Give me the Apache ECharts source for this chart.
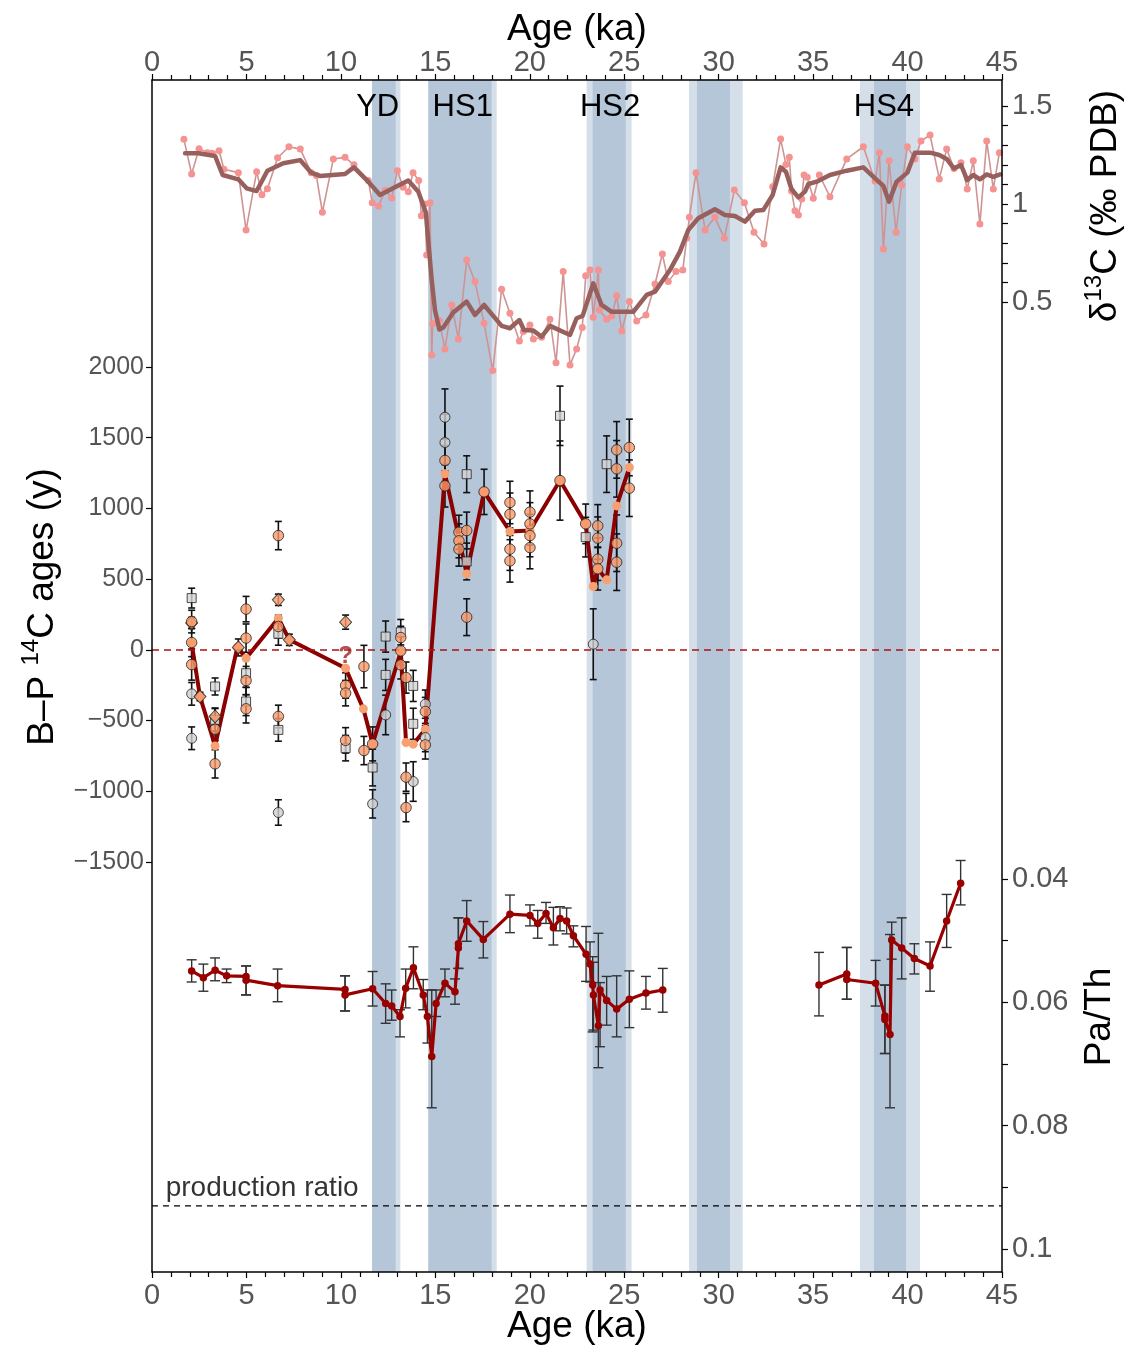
<!DOCTYPE html>
<html><head><meta charset="utf-8">
<script src="https://cdn.jsdelivr.net/npm/echarts@6/dist/echarts.min.js"></script>
<style>html,body{margin:0;padding:0;background:#fff}#c{width:1126px;height:1347px}</style>
</head><body><div id="c"></div>
<script>
// ---------------- DATA ----------------
// shaded intervals: [lightStart, darkStart, darkEnd, lightEnd] (ka)
const bands = [
  [11.65, 11.65, 12.9, 13.15],
  [14.63, 14.63, 17.98, 18.25],
  [23.01, 23.33, 25.08, 25.39],
  [28.43, 28.85, 30.6, 31.27],
  [37.48, 38.22, 39.92, 40.66]
];
const bandLabels = ['YD', 'HS1', 'HS2', '', 'HS4'];
const bandLabelAge = [11.95, 16.45, 24.25, null, 38.75];

// d13C raw [age ka, permil]
const d13cRaw = [[1.69,1.33],[2.10,1.153],[2.49,1.282],[2.93,1.262],[3.18,1.259],[3.55,1.272],[3.81,1.177],[4.57,1.16],[4.98,0.867],[5.54,1.165],[5.82,1.047],[6.11,1.078],[6.65,1.236],[7.25,1.292],[7.85,1.28],[8.43,1.16],[8.7,1.145],[9.02,0.958],[9.6,1.23],[10.22,1.238],[10.69,1.2],[11.45,1.12],[11.66,1.007],[12.0,0.99],[12.35,1.07],[12.69,1.03],[12.99,1.17],[13.3,1.085],[13.57,1.063],[13.82,1.16],[14.12,1.12],[14.26,0.94],[14.45,1.0],[14.54,0.74],[14.72,1.007],[14.81,0.23],[14.86,0.39],[15.21,0.405],[15.51,0.26],[15.87,0.485],[16.22,0.311],[16.66,0.714],[17.1,0.604],[17.58,0.391],[18.04,0.15],[18.51,0.565],[18.95,0.442],[19.45,0.301],[19.66,0.349],[20.01,0.383],[20.19,0.311],[20.63,0.32],[21.07,0.412],[21.39,0.19],[21.77,0.655],[22.13,0.179],[22.48,0.26],[22.78,0.37],[22.96,0.634],[23.19,0.663],[23.36,0.422],[23.63,0.663],[23.68,0.459],[24.07,0.412],[24.34,0.429],[24.6,0.532],[24.87,0.352],[25.27,0.502],[25.66,0.403],[26.15,0.434],[26.63,0.592],[27.02,0.745],[27.33,0.604],[27.74,0.655],[28.1,0.663],[28.31,0.825],[28.45,0.932],[28.8,1.16],[29.28,0.867],[29.8,0.932],[30.3,0.825],[30.83,1.071],[31.36,1.007],[31.87,0.856],[32.4,0.796],[32.86,1.088],[33.28,1.332],[33.56,1.202],[33.74,1.238],[33.86,1.066],[34.04,0.966],[34.22,0.944],[34.4,1.026],[34.52,1.148],[34.69,1.136],[35.01,1.029],[35.33,1.148],[35.89,1.037],[36.78,1.23],[37.66,1.292],[38.28,1.117],[38.51,1.262],[38.72,0.77],[39.02,1.221],[39.39,0.856],[39.69,1.097],[39.99,1.292],[40.39,1.23],[40.71,1.321],[41.19,1.352],[41.68,1.128],[42.07,1.28],[42.46,1.181],[42.83,1.211],[43.16,1.077],[43.48,1.221],[43.83,0.898],[44.19,1.321],[44.54,1.077],[44.86,1.262]];

// d13C smoothed
const d13cSmooth = [[1.75,1.259],[2.45,1.259],[3.34,1.245],[3.74,1.148],[4.57,1.126],[5.01,1.08],[5.54,1.066],[6.11,1.17],[6.95,1.208],[7.84,1.224],[8.43,1.16],[8.89,1.143],[10.22,1.153],[10.69,1.187],[11.37,1.122],[12.07,1.046],[12.86,1.085],[13.57,1.12],[14.1,1.063],[14.5,0.956],[14.81,0.61],[14.98,0.459],[15.21,0.36],[15.42,0.37],[15.95,0.446],[16.66,0.502],[17.1,0.434],[17.58,0.485],[18.51,0.378],[18.95,0.366],[19.45,0.408],[19.69,0.357],[20.19,0.354],[20.63,0.323],[21.07,0.378],[22.13,0.332],[22.48,0.417],[22.8,0.429],[23.36,0.595],[23.8,0.485],[24.34,0.45],[25.48,0.45],[26.19,0.536],[26.63,0.553],[27.42,0.663],[27.95,0.757],[28.39,0.867],[28.92,0.927],[29.8,0.973],[30.33,0.944],[30.86,0.939],[31.39,0.91],[31.92,0.966],[32.36,0.969],[32.86,1.046],[33.28,1.187],[33.56,1.165],[33.86,1.075],[34.22,1.034],[34.57,1.063],[34.75,1.102],[35.19,1.114],[35.89,1.148],[36.78,1.17],[37.66,1.187],[38.28,1.131],[38.72,1.092],[39.02,1.012],[39.42,1.114],[39.99,1.16],[40.39,1.262],[41.19,1.262],[41.68,1.25],[42.07,1.23],[42.46,1.181],[42.83,1.199],[43.16,1.122],[43.48,1.148],[43.83,1.126],[44.19,1.151],[44.54,1.139],[44.9,1.151]];

// B-P 14C ages: [age ka, years, error +/-]
const bpOrangeCircles = [[2.10,200,80],[2.10,52,100],[2.10,-104,110],[3.34,-561,80],[3.34,-806,100],[4.98,288,90],[4.98,83,100],[4.98,-217,100],[4.98,-417,100],[6.69,808,100],[6.69,165,80],[6.69,-471,80],[10.25,-252,90],[10.25,-306,90],[10.25,-640,90],[11.22,-118,150],[11.22,-712,100],[11.68,-665,120],[13.17,87,80],[13.17,-7,100],[13.17,-106,100],[13.45,-196,110],[13.45,-900,100],[13.45,-1115,100],[14.47,-436,100],[14.47,-672,100],[15.51,1339,150],[15.51,1160,150],[16.25,832,120],[16.25,771,120],[16.25,712,120],[16.66,844,130],[16.66,231,130],[17.58,1117,160],[18.95,1042,150],[18.95,959,150],[18.95,712,150],[18.95,629,150],[20.01,974,150],[20.01,891,150],[20.01,808,150],[20.01,723,150],[21.6,1197,280],[22.96,891,140],[23.6,877,150],[23.6,790,150],[23.6,641,150],[23.6,573,150],[24.6,1414,200],[24.6,1280,200],[24.6,754,200],[24.6,620,200],[25.27,1431,200],[25.27,1143,200]];
const bpGreyCircles = [[2.10,-311,80],[2.10,-625,80],[6.69,-1150,90],[11.68,-1089,100],[12.37,-460,140],[13.83,-931,140],[14.47,-384,100],[14.47,-620,100],[15.51,1645,200],[15.51,1466,200],[23.36,40,250]];
const bpSquares = [[2.10,366,70],[3.34,-259,60],[3.34,-495,80],[4.98,-165,100],[4.98,-365,100],[6.69,113,80],[6.69,-566,80],[10.25,-695,90],[11.68,-832,130],[12.37,94,110],[12.37,-177,110],[13.17,125,90],[13.83,-255,110],[13.83,-523,110],[16.66,1242,130],[16.66,625,130],[21.6,1655,210],[22.96,797,140],[24.07,1313,200]];
const bpDiamonds = [[2.10,190,40],[2.54,-330,30],[3.34,-471,60],[4.57,17,60],[6.69,354,40],[7.27,71,40],[10.25,196,50]];
const bpLine = [[2.10,47],[2.54,-330],[3.34,-679],[4.52,19],[4.98,-59],[6.69,224],[7.27,71],[10.25,-130],[11.19,-417],[11.68,-665],[13.17,-12],[13.45,-655],[13.83,-667],[14.47,-561],[15.51,1245],[16.25,790],[16.66,537],[17.58,1117],[18.95,837],[20.01,844],[21.6,1197],[22.96,891],[23.36,448],[23.6,573],[24.07,495],[24.6,1018],[25.27,1289]];
const bpQuestion = [[10.25,-45]];

// Pa/Th: [age ka, value, errLow, errHigh]
const paTh = [[2.10,0.0549,0.0531,0.0567],[2.72,0.0560,0.0538,0.0582],[3.34,0.0548,0.0528,0.0565],[3.95,0.0557,0.0546,0.0568],[4.98,0.0558,0.0541,0.0588],[4.98,0.0564,0.0541,0.0588],[6.65,0.0573,0.0546,0.0599],[10.22,0.0579,0.0557,0.0614],[10.22,0.0588,0.0557,0.0614],[11.68,0.0578,0.0550,0.0606],[12.37,0.0602,0.0570,0.0634],[12.69,0.0606,0.0580,0.0629],[13.13,0.0623,0.0612,0.0656],[13.43,0.0577,0.0546,0.0609],[13.84,0.0544,0.0510,0.0578],[14.36,0.0588,0.0563,0.0612],[14.58,0.0623,0.0580,0.0666],[14.81,0.0688,0.0580,0.0771],[15.04,0.0602,0.0580,0.0623],[15.51,0.0569,0.0546,0.0591],[16.04,0.0583,0.0562,0.0603],[16.22,0.0512,0.0463,0.0545],[16.22,0.0505,0.0463,0.0545],[16.66,0.0468,0.0435,0.0501],[17.54,0.0498,0.0469,0.0528],[18.95,0.0457,0.0426,0.0487],[20.01,0.0459,0.0442,0.0476],[20.42,0.0472,0.0451,0.0496],[20.86,0.0456,0.0438,0.0472],[21.25,0.0479,0.0446,0.0507],[21.6,0.0464,0.0445,0.0484],[21.95,0.0468,0.0447,0.0489],[22.31,0.0492,0.0476,0.0510],[22.98,0.0522,0.0477,0.0566],[23.19,0.0538,0.0502,0.0567],[23.33,0.0572,0.0526,0.0648],[23.37,0.0588,0.0535,0.0645],[23.63,0.0638,0.0488,0.0706],[23.72,0.0580,0.0568,0.0672],[24.07,0.0597,0.0558,0.0637],[24.6,0.0611,0.0557,0.0656],[25.27,0.0595,0.0549,0.0641],[26.15,0.0585,0.0558,0.0611],[27.04,0.0580,0.0545,0.0616],[35.31,0.0572,0.0519,0.0622],[36.78,0.0554,0.0511,0.0595],[36.78,0.0563,0.0511,0.0595],[38.31,0.0569,0.0532,0.0606],[38.8,0.0622,0.0572,0.0683],[38.8,0.0628,0.0572,0.0683],[39.07,0.0652,0.0490,0.0771],[39.16,0.0499,0.0470,0.0530],[39.69,0.0512,0.0463,0.0562],[40.36,0.0529,0.0505,0.0554],[41.19,0.0541,0.0502,0.0582],[42.07,0.0468,0.0425,0.0511],[42.81,0.0407,0.0370,0.0442]];
const productionRatio = 0.093;
const productionLabel = 'production ratio';

// ---------------- CHART ----------------
const FONT = 'Liberation Sans, Arial, Helvetica, sans-serif';
const chart = echarts.init(document.getElementById('c'), null, {renderer: 'canvas'});

const ageAxisBase = {min: 0, max: 45, interval: 5};
function hiddenX(gi) { return Object.assign({type: 'value', gridIndex: gi, show: false}, ageAxisBase); }
function visX(pos, margin) {
  return Object.assign({
    type: 'value', gridIndex: 0, position: pos, z: 10,
    axisLine: {show: true, onZero: false, lineStyle: {color: '#000', width: 1.5}},
    axisTick: {show: true, length: 6, lineStyle: {color: '#000', width: 1.2}},
    minorTick: {show: true, splitNumber: 5, length: 5, lineStyle: {color: '#000', width: 1.2}},
    axisLabel: {fontSize: 29, color: '#555', fontFamily: FONT, margin: margin},
    splitLine: {show: false}
  }, ageAxisBase);
}
function frameY(pos) {
  return {type: 'value', gridIndex: 0, position: pos, min: 0, max: 1, z: 10,
    axisLine: {show: true, onZero: false, lineStyle: {color: '#000', width: 1.5}},
    axisTick: {show: false}, minorTick: {show: false}, axisLabel: {show: false}, splitLine: {show: false}};
}

function errData(arr) { return arr.map(d => [d[0], d[1], d[1] - d[2], d[1] + d[2]]); }
function errRender(capW, color, width) {
  return function (params, api) {
    const x = api.value(0), lo = api.value(2), hi = api.value(3);
    const p1 = api.coord([x, lo]), p2 = api.coord([x, hi]);
    const st = {stroke: color, lineWidth: width};
    return {type: 'group', children: [
      {type: 'line', shape: {x1: p1[0], y1: p1[1], x2: p2[0], y2: p2[1]}, style: st},
      {type: 'line', shape: {x1: p1[0] - capW, y1: p1[1], x2: p1[0] + capW, y2: p1[1]}, style: st},
      {type: 'line', shape: {x1: p2[0] - capW, y1: p2[1], x2: p2[0] + capW, y2: p2[1]}, style: st}
    ]};
  };
}

const allBp = [].concat(bpOrangeCircles, bpGreyCircles, bpSquares, bpDiamonds);

// Pa/Th line with gap where samples are missing
const paThLine = [];
paTh.forEach((d, i) => {
  if (i > 0 && d[0] - paTh[i - 1][0] > 5) paThLine.push([null, null]);
  paThLine.push([d[0], d[1]]);
});

const markerBorder = {borderColor: '#222', borderWidth: 1};
const tickStyle = {color: '#000', width: 1.2};

const option = {
  animation: false,
  backgroundColor: '#fff',
  textStyle: {fontFamily: FONT},
  grid: [
    {left: 152, right: 124, top: 80, bottom: 75},       // frame + bands
    {left: 152, right: 124, top: 106, height: 196},     // d13C
    {left: 152, right: 124, top: 367, height: 495},     // B-P
    {left: 152, right: 124, top: 879, height: 370}      // Pa/Th
  ],
  xAxis: [visX('bottom', 9), visX('top', 3), hiddenX(1), hiddenX(2), hiddenX(3)],
  yAxis: [
    frameY('left'), frameY('right'),
    {type: 'value', gridIndex: 1, position: 'right', min: 0.5, max: 1.5, interval: 0.5,
      axisLine: {show: false, onZero: false}, splitLine: {show: false},
      axisTick: {show: true, length: 6, lineStyle: tickStyle},
      minorTick: {show: true, splitNumber: 5, length: 6, lineStyle: tickStyle},
      axisLabel: {fontSize: 29, color: '#555', fontFamily: FONT, margin: 10,
        formatter: v => (Math.abs(v - 1) < 1e-9 ? '1' : v.toFixed(1))}},
    {type: 'value', gridIndex: 2, position: 'left', min: -1500, max: 2000, interval: 500,
      axisLine: {show: false, onZero: false}, splitLine: {show: false},
      axisTick: {show: true, length: 6, lineStyle: tickStyle},
      axisLabel: {fontSize: 25, color: '#555', fontFamily: FONT, margin: 8,
        formatter: v => (v < 0 ? '\u2212' + Math.abs(v) : String(v))}},
    {type: 'value', gridIndex: 3, position: 'right', inverse: true, min: 0.04, max: 0.1, interval: 0.01,
      axisLine: {show: false, onZero: false}, splitLine: {show: false},
      axisTick: {show: true, length: 6, lineStyle: tickStyle},
      axisLabel: {fontSize: 29, color: '#555', fontFamily: FONT, margin: 10,
        formatter: v => { const k = Math.round(v * 100); return k % 2 === 0 ? (k === 10 ? '0.1' : (k / 100).toFixed(2)) : ''; }}}
  ],
  series: [
    // shaded bands
    {type: 'custom', xAxisIndex: 0, yAxisIndex: 0, z: 0, silent: true,
      data: bands.map((b, i) => [b[0], b[3], i]),
      renderItem: function (params, api) {
        const i = api.value(2);
        const b = bands[i];
        const top = api.coord([0, 1])[1], bot = api.coord([0, 0])[1];
        const xs = b.map(v => api.coord([v, 0])[0]);
        const ch = [
          {type: 'rect', shape: {x: xs[0], y: top, width: xs[3] - xs[0], height: bot - top}, style: {fill: '#d5dfea'}},
          {type: 'rect', shape: {x: xs[1], y: top, width: xs[2] - xs[1], height: bot - top}, style: {fill: '#b5c6d9'}}
        ];
        if (bandLabels[i]) {
          const lx = api.coord([bandLabelAge[i], 0])[0];
          ch.push({type: 'text', x: lx, y: top + 27, style: {text: bandLabels[i], fontSize: 31, fontFamily: FONT, fill: '#000', align: 'center', verticalAlign: 'middle'}});
        }
        return {type: 'group', children: ch};
      }},
    // d13C raw
    {type: 'line', xAxisIndex: 2, yAxisIndex: 2, data: d13cRaw, clip: false, z: 3,
      symbol: 'circle', symbolSize: 7, showSymbol: true,
      lineStyle: {color: '#cf9393', width: 1.6}, itemStyle: {color: '#f59393'}},
    // d13C smoothed
    {type: 'line', xAxisIndex: 2, yAxisIndex: 2, data: d13cSmooth, clip: false, z: 4,
      showSymbol: false, symbol: 'none',
      lineStyle: {color: '#98605c', width: 4.5, cap: 'round', join: 'round'}},
    // B-P error bars
    {type: 'custom', xAxisIndex: 3, yAxisIndex: 3, z: 3, silent: true, clip: false,
      data: errData(allBp), renderItem: errRender(3.5, '#111', 1.6)},
    // B-P main line
    {type: 'line', xAxisIndex: 3, yAxisIndex: 3, data: bpLine, z: 4, clip: false,
      symbol: 'circle', symbolSize: 9, showSymbol: true,
      lineStyle: {color: '#8b0000', width: 4, join: 'round'}, itemStyle: {color: '#f7a072'},
      markLine: {silent: true, symbol: 'none', label: {show: false}, precision: 4,
        lineStyle: {color: '#b01010', type: [7, 5], width: 1.6},
        data: [{yAxis: 0}]}},
    // B-P markers
    {type: 'scatter', xAxisIndex: 3, yAxisIndex: 3, data: bpSquares, z: 5, clip: false,
      symbol: 'rect', symbolSize: 9, itemStyle: Object.assign({color: '#d4d4d4'}, markerBorder)},
    {type: 'scatter', xAxisIndex: 3, yAxisIndex: 3, data: bpGreyCircles, z: 5, clip: false,
      symbol: 'circle', symbolSize: 10, itemStyle: Object.assign({color: '#cfcfcf'}, markerBorder)},
    {type: 'scatter', xAxisIndex: 3, yAxisIndex: 3, data: bpDiamonds, z: 5, clip: false,
      symbol: 'diamond', symbolSize: [12, 13], itemStyle: Object.assign({color: '#f79a6a'}, markerBorder)},
    {type: 'scatter', xAxisIndex: 3, yAxisIndex: 3, data: bpOrangeCircles, z: 6, clip: false,
      symbol: 'circle', symbolSize: 10.5, itemStyle: Object.assign({color: '#f79a6a'}, markerBorder)},
    {type: 'scatter', xAxisIndex: 3, yAxisIndex: 3, data: bpQuestion, z: 6, clip: false,
      symbol: 'circle', symbolSize: 2, itemStyle: {color: 'rgba(0,0,0,0)'},
      label: {show: true, position: 'inside', formatter: '?', fontSize: 24, fontWeight: 'bold', color: '#a3201f', fontFamily: FONT}},
    // Pa/Th error bars
    {type: 'custom', xAxisIndex: 4, yAxisIndex: 4, z: 3, silent: true, clip: false,
      data: paTh, renderItem: errRender(5, '#333', 1.4)},
    // Pa/Th line
    {type: 'line', xAxisIndex: 4, yAxisIndex: 4, data: paThLine, z: 4, clip: false,
      connectNulls: false, symbol: 'circle', symbolSize: 7.5, showSymbol: true,
      lineStyle: {color: '#990000', width: 3.2, join: 'round'}, itemStyle: {color: '#990000'}},
    // production ratio reference line
    {type: 'line', xAxisIndex: 4, yAxisIndex: 4, z: 3, silent: true, symbol: 'none',
      data: [[0, productionRatio], [45, productionRatio]],
      lineStyle: {color: '#000', type: [6, 5], width: 1.3}},
    {type: 'scatter', xAxisIndex: 4, yAxisIndex: 4, z: 6, silent: true,
      data: [[0.75, productionRatio]], symbol: 'circle', symbolSize: 1, itemStyle: {color: 'rgba(0,0,0,0)'},
      label: {show: true, position: 'right', distance: 0, offset: [-1, -18], formatter: productionLabel,
        fontSize: 28, color: '#000', fontFamily: FONT}}
  ],
  graphic: [
    {type: 'text', x: 577, y: 30, z: 100, style: {text: 'Age (ka)', fontSize: 37, fontFamily: FONT, fill: '#000', align: 'center', verticalAlign: 'middle'}},
    {type: 'text', x: 577, y: 1327, z: 100, style: {text: 'Age (ka)', fontSize: 37, fontFamily: FONT, fill: '#000', align: 'center', verticalAlign: 'middle'}},
    {type: 'text', x: 40, y: 607, rotation: Math.PI / 2, z: 100,
      style: {text: '{a|B\u2013P }{s|14}{a|C ages (y)}', align: 'center', verticalAlign: 'middle', fill: '#000',
        rich: {a: {fontSize: 37, fontFamily: FONT, lineHeight: 42, verticalAlign: 'bottom'}, s: {fontSize: 24, fontFamily: FONT, lineHeight: 24, verticalAlign: 'top'}}}},
    {type: 'text', x: 1103, y: 206, rotation: Math.PI / 2, z: 100,
      style: {text: '{a|\u03b4}{s|13}{a|C (\u2030 PDB)}', align: 'center', verticalAlign: 'middle', fill: '#000',
        rich: {a: {fontSize: 37, fontFamily: FONT, lineHeight: 42, verticalAlign: 'bottom'}, s: {fontSize: 24, fontFamily: FONT, lineHeight: 24, verticalAlign: 'top'}}}},
    {type: 'text', x: 1100, y: 1017, rotation: Math.PI / 2, z: 100,
      style: {text: 'Pa/Th', fontSize: 37, fontFamily: FONT, fill: '#000', align: 'center', verticalAlign: 'middle'}}
  ]
};
chart.setOption(option);
</script>
</body></html>
